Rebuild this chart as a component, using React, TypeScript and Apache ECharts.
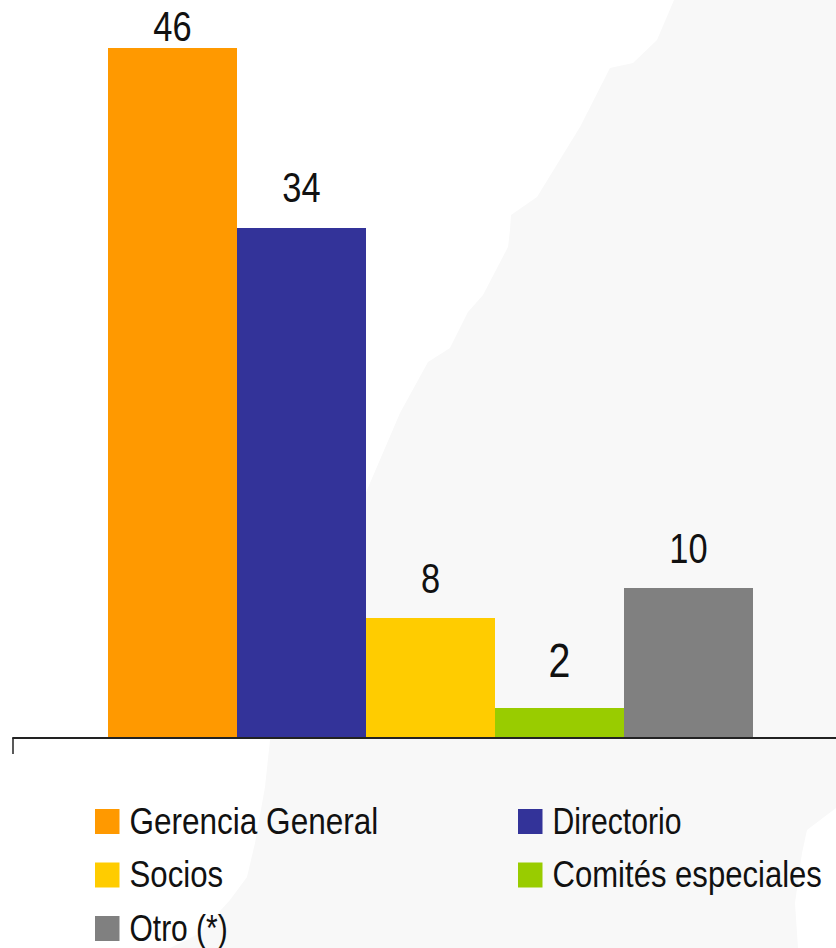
import React, { useEffect, useRef } from "react";
import * as echarts from "echarts";

const categoryLabels = [""];
const seriesNames = ["Gerencia General", "Directorio", "Socios", "Comités especiales", "Otro (*)"];
const seriesValues = [46, 34, 8, 2, 10];
const seriesColors = ["#ff9900", "#333399", "#ffcc00", "#99cc00", "#808080"];
const labelLifts = [22, 41, 40, 47.5, 40];
const labelSizes = [42, 42, 42, 48, 42];
const legendColumns = [0, 1, 0, 1, 0];
const legendRows = [0, 0, 1, 1, 2];
const legendStretch = [0.852, 0.815, 0.843, 0.84, 0.81];

const FONT = '"Liberation Sans", Arial, sans-serif';
const BAR_WIDTH = 129;
const backdropOutline = [
  [674, 0], [657, 40], [633, 63], [610, 68], [580, 127], [537, 197], [511, 215], [510, 230], [508, 247],
  [483, 295], [468, 312], [450, 348], [428, 362], [400, 413], [367, 490], [270, 740], [265, 787], [255, 843],
  [247, 877], [230, 900], [200, 933], [170, 948], [798, 948], [795, 903], [802, 853], [807, 830], [836, 808], [860, 808], [860, 0],
];

function legendGraphic() {
  const columnX = [95, 518];
  const rowY = [809, 862.5, 916];
  const items: any[] = [];
  seriesNames.forEach((name, i) => {
    const x = columnX[legendColumns[i]];
    const y = rowY[legendRows[i]];
    items.push({
      type: "rect",
      silent: true,
      shape: { x, y, width: 24.5, height: 25 },
      style: { fill: seriesColors[i] },
    });
    items.push({
      type: "text",
      silent: true,
      x: x + 34.5,
      y: y + 12,
      scaleX: legendStretch[i],
      style: {
        text: name,
        fontFamily: FONT,
        fontSize: 37,
        fill: "#111111",
        textAlign: "left",
        textVerticalAlign: "middle",
      },
    });
  });
  return items;
}

export default function App() {
  const ref = useRef<HTMLDivElement>(null);
  useEffect(() => {
    const chart = echarts.init(ref.current!, undefined, { renderer: "svg" });
    chart.setOption({
      animation: false,
      backgroundColor: "#ffffff",
      graphic: [
        {
          type: "polygon",
          z: -10,
          silent: true,
          shape: { points: backdropOutline },
          style: { fill: "#f8f8f8" },
        },
        ...legendGraphic(),
      ],
      grid: { left: 13, right: 12, top: 48, height: 690 },
      xAxis: {
        type: "category",
        z: 3,
        data: categoryLabels,
        axisLine: { show: true, lineStyle: { color: "#222222", width: 2 } },
        axisTick: { show: true, length: 16, lineStyle: { color: "#222222", width: 1.5 } },
        axisLabel: { show: false },
      },
      yAxis: { type: "value", min: 0, max: 46, show: false, splitLine: { show: false } },
      series: [
        ...seriesNames.map((name, i) => ({
          type: "bar",
          name,
          data: [seriesValues[i]],
          barWidth: BAR_WIDTH,
          barGap: "0%",
          itemStyle: { color: seriesColors[i] },
        })),
        {
          type: "custom",
          name: "Etiquetas",
          silent: true,
          z: 5,
          encode: { x: 0, y: 1 },
          data: seriesValues.map((v, i) => [0, v, i]),
          renderItem: (_params: any, api: any) => {
            const i = api.value(2);
            const [cx, cy] = api.coord([api.value(0), api.value(1)]);
            return {
              type: "text",
              x: cx + (i - 2) * BAR_WIDTH,
              y: cy - labelLifts[i],
              scaleX: 0.82,
              style: {
                text: String(api.value(1)),
                fontFamily: FONT,
                fontSize: labelSizes[i],
                fill: "#111111",
                textAlign: "center",
                textVerticalAlign: "middle",
              },
            };
          },
        },
      ],
    });
    return () => chart.dispose();
  }, []);
  return (
    <div style={{ position: "fixed", left: 0, top: 0, width: 836, height: 948, overflow: "hidden" }}>
      <div ref={ref} style={{ width: 860, height: 948 }} />
    </div>
  );
}
